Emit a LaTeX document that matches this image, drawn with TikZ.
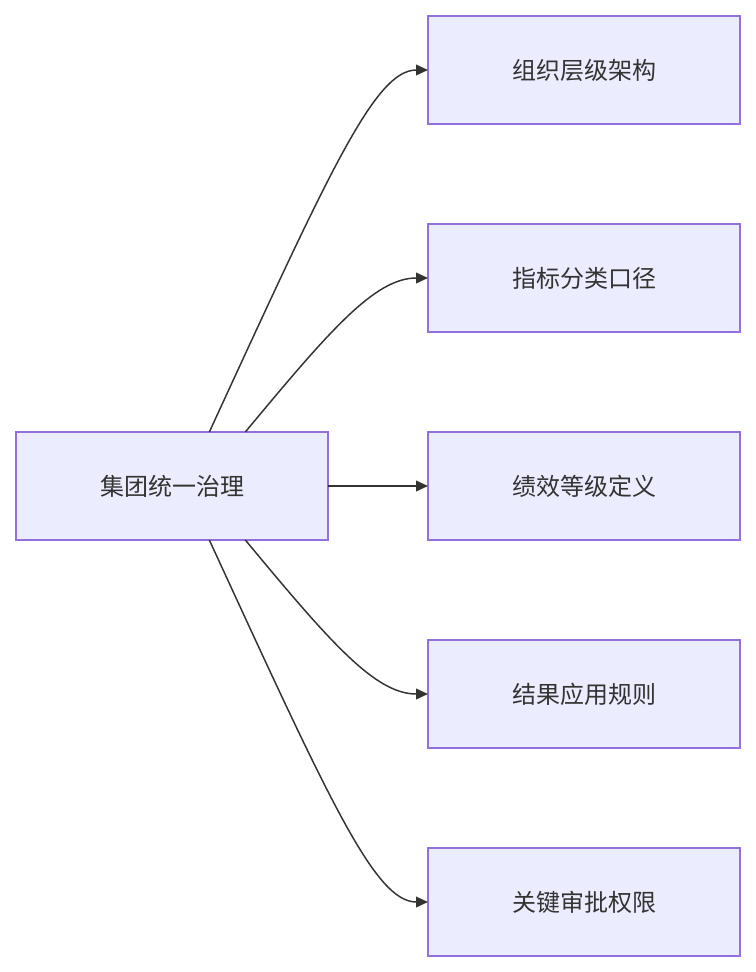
\documentclass[tikz,border=0pt]{standalone}
\usepackage{fontspec}
\setmainfont{Noto Sans CJK SC}
\usetikzlibrary{arrows.meta}
\definecolor{boxfill}{HTML}{ECECFF}
\definecolor{boxline}{HTML}{9370DB}
\definecolor{edge}{HTML}{333333}
\tikzset{
	box/.style={draw=boxline,fill=boxfill,line width=0.9pt,rectangle,outer sep=0pt,
		minimum width=234pt,minimum height=81pt,inner sep=0pt,font=\fontsize{18}{20}\selectfont,text=edge},
	link/.style={draw=edge,line width=1.1pt,-{Triangle[length=9pt,width=8pt]}}
}
\begin{document}
\begin{tikzpicture}[x=0.75pt,y=-0.75pt]
	\useasboundingbox (0,0) rectangle (756,972);

	\node[box] (governance) at (172,486) {集团统一治理};
	\node[box] (org)        at (584,70)  {组织层级架构};
	\node[box] (indicator)  at (584,278) {指标分类口径};
	\node[box] (grade)      at (584,486) {绩效等级定义};
	\node[box] (result)     at (584,694) {结果应用规则};
	\node[box] (approval)   at (584,902) {关键审批权限};

	\draw[link] ([xshift=28]governance.north) .. controls (330,170) and (375,70) .. (org.west);
	\draw[link] ([xshift=55]governance.north) .. controls (330,330) and (375,278) .. (indicator.west);
	\draw[link] (governance.east) -- (grade.west);
	\draw[link] ([xshift=55]governance.south) .. controls (330,642) and (375,694) .. (result.west);
	\draw[link] ([xshift=28]governance.south) .. controls (330,802) and (375,902) .. (approval.west);
\end{tikzpicture}
\end{document}
